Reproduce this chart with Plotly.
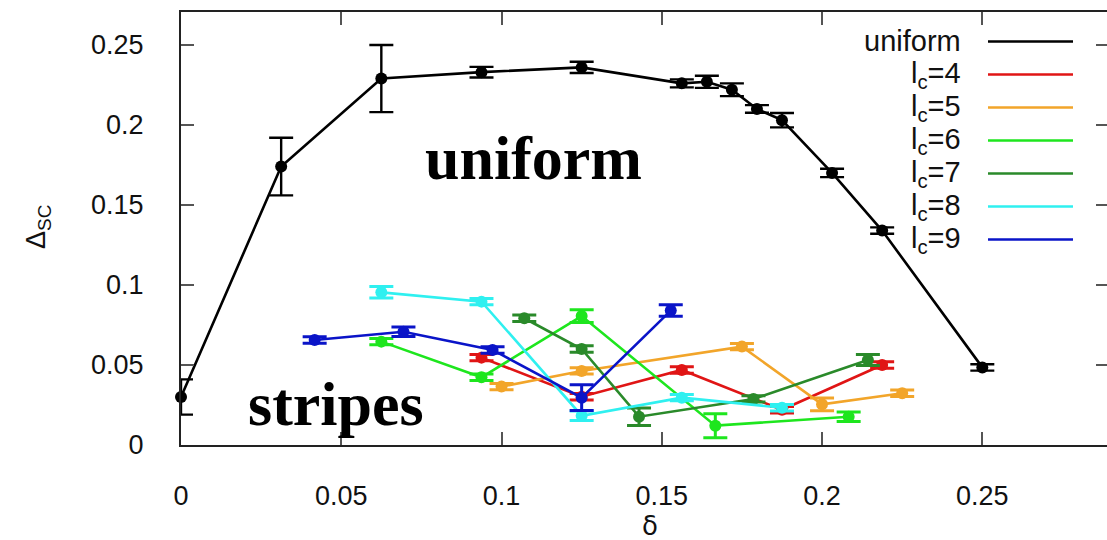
import plotly.graph_objects as go

# ---------------- data ----------------
uniform_x = [0, 0.03125, 0.0625, 0.09375, 0.125, 0.15625, 0.1640625, 0.171875,
             0.1796875, 0.1875, 0.203125, 0.21875, 0.25]
uniform_y = [0.030, 0.174, 0.229, 0.233, 0.236, 0.226, 0.227, 0.222,
             0.210, 0.203, 0.170, 0.134, 0.0485]
uniform_err = [0.011, 0.018, 0.021, 0.0033, 0.0035, 0.0025, 0.0038, 0.004,
               0.0024, 0.0045, 0.0026, 0.002, 0.002]

lc4_x = [0.09375, 0.125, 0.15625, 0.1875, 0.21875]
lc4_y = [0.0546, 0.0302, 0.0469, 0.0220, 0.0500]
lc4_err = [0.002, 0.002, 0.002, 0.002, 0.002]

lc5_x = [0.1, 0.125, 0.175, 0.2, 0.225]
lc5_y = [0.0365, 0.0463, 0.0615, 0.0254, 0.0323]
lc5_err = [0.002, 0.002, 0.002, 0.004, 0.002]

lc6_x = [0.0625, 0.09375, 0.125, 0.1667, 0.2083]
lc6_y = [0.0646, 0.0423, 0.0806, 0.0121, 0.0177]
lc6_err = [0.002, 0.002, 0.004, 0.0075, 0.003]

lc7_x = [0.1071, 0.125, 0.1429, 0.1786, 0.2143]
lc7_y = [0.0792, 0.0600, 0.0177, 0.0288, 0.0531]
lc7_err = [0.002, 0.002, 0.0055, 0.002, 0.0034]

lc8_x = [0.0625, 0.09375, 0.125, 0.15625, 0.1875]
lc8_y = [0.0954, 0.0896, 0.0183, 0.0296, 0.0233]
lc8_err = [0.0036, 0.002, 0.003, 0.002, 0.002]

lc9_x = [0.0417, 0.0694, 0.0972, 0.125, 0.1528]
lc9_y = [0.0656, 0.0708, 0.0594, 0.0296, 0.0840]
lc9_err = [0.002, 0.003, 0.002, 0.008, 0.0036]

series_names = ["uniform", "l<sub>c</sub>=4", "l<sub>c</sub>=5", "l<sub>c</sub>=6",
                "l<sub>c</sub>=7", "l<sub>c</sub>=8", "l<sub>c</sub>=9"]
series_colors = ["#000000", "#e01515", "#f2a52a", "#1ee61e", "#2a8a2a", "#2ff0f0", "#0a14c8"]

tick_vals = [0, 0.05, 0.1, 0.15, 0.2, 0.25]
tick_text = ["0", "0.05", "0.1", "0.15", "0.2", "0.25"]

# ---------------- layout geometry ----------------
W, H = 1107, 540
ML, MT, MB, MR = 181, 12, 95, 0
X_RANGE = [0, 0.2889]
Y_RANGE = [0, 0.2706]

SANS = "Liberation Sans, Arial, sans-serif"
SERIF = "Liberation Serif, Times New Roman, serif"

fig = go.Figure()

all_series = [
    (uniform_x, uniform_y, uniform_err),
    (lc4_x, lc4_y, lc4_err),
    (lc5_x, lc5_y, lc5_err),
    (lc6_x, lc6_y, lc6_err),
    (lc7_x, lc7_y, lc7_err),
    (lc8_x, lc8_y, lc8_err),
    (lc9_x, lc9_y, lc9_err),
]

for i, ((xs, ys, es), name, col) in enumerate(zip(all_series, series_names, series_colors)):
    fig.add_trace(go.Scatter(
        x=xs, y=ys, name=name, mode="lines+markers",
        line=dict(color=col, width=2.6),
        marker=dict(color=col, size=12),
        error_y=dict(type="data", array=es, visible=True, color=col,
                     thickness=2.4 if i == 0 else 3, width=12),
        cliponaxis=False,
        showlegend=False,
    ))

# invisible trace to carry the mirrored right axis
fig.add_trace(go.Scatter(x=[None], y=[None], yaxis="y2", showlegend=False, hoverinfo="skip"))

# ---------------- manual legend (text left, sample line right) ----------------
plot_w = W - ML - MR
plot_h = H - MT - MB

def px_to_paper_x(px):
    return (px - ML) / plot_w

def px_to_paper_y(py):
    return 1 - (py - MT) / plot_h

legend_y0 = 41.5
legend_step = 33.0
for i, (name, col) in enumerate(zip(series_names, series_colors)):
    py = legend_y0 + i * legend_step
    fig.add_annotation(
        x=px_to_paper_x(963), y=px_to_paper_y(py), xref="paper", yref="paper",
        text=name, showarrow=False, xanchor="right", yanchor="middle",
        font=dict(family=SANS, size=29, color="#111111"),
    )
    fig.add_shape(
        type="line", xref="paper", yref="paper",
        x0=px_to_paper_x(988), x1=px_to_paper_x(1073),
        y0=px_to_paper_y(py), y1=px_to_paper_y(py),
        line=dict(color=col, width=2.6),
    )

# region labels
fig.add_annotation(x=px_to_paper_x(533), y=px_to_paper_y(158), xref="paper", yref="paper",
                   text="<b>uniform</b>", showarrow=False, xanchor="center", yanchor="middle",
                   font=dict(family=SERIF, size=62, color="black"))
fig.add_annotation(x=px_to_paper_x(336), y=px_to_paper_y(404), xref="paper", yref="paper",
                   text="<b>stripes</b>", showarrow=False, xanchor="center", yanchor="middle",
                   font=dict(family=SERIF, size=62, color="black"))

# axis titles
fig.add_annotation(x=px_to_paper_x(650), y=px_to_paper_y(526), xref="paper", yref="paper",
                   text="δ", showarrow=False, xanchor="center", yanchor="middle",
                   font=dict(family="DejaVu Sans, sans-serif", size=26, color="#111111"))
fig.add_annotation(x=px_to_paper_x(38), y=px_to_paper_y(227), xref="paper", yref="paper",
                   text="Δ<sub>SC</sub>", showarrow=False, textangle=-90,
                   xanchor="center", yanchor="middle",
                   font=dict(family=SANS, size=27, color="#111111"))

axis_common = dict(
    ticks="inside", ticklen=13, tickwidth=1.6, tickcolor="#555555",
    showgrid=False, zeroline=False,
    tickfont=dict(family=SANS, size=27, color="#111111"),
)

fig.update_layout(
    width=W, height=H,
    margin=dict(l=ML, r=MR, t=MT, b=MB, pad=0),
    paper_bgcolor="white", plot_bgcolor="white",
    showlegend=False,
    xaxis=dict(range=X_RANGE, tickvals=tick_vals, ticktext=tick_text,
               showline=True, linecolor="#222222", linewidth=2, mirror="ticks",
               ticklabelstandoff=26, **axis_common),
    yaxis=dict(range=Y_RANGE, tickvals=tick_vals, ticktext=tick_text,
               showline=True, linecolor="#222222", linewidth=2, mirror=False,
               ticklabelstandoff=30, **axis_common),
    yaxis2=dict(range=Y_RANGE, tickvals=tick_vals, overlaying="y", side="right",
                showline=False, showticklabels=False, ticks="inside", ticklen=11,
                tickwidth=1.6, tickcolor="#555555", showgrid=False, zeroline=False),
)

fig.write_html("out.html")
